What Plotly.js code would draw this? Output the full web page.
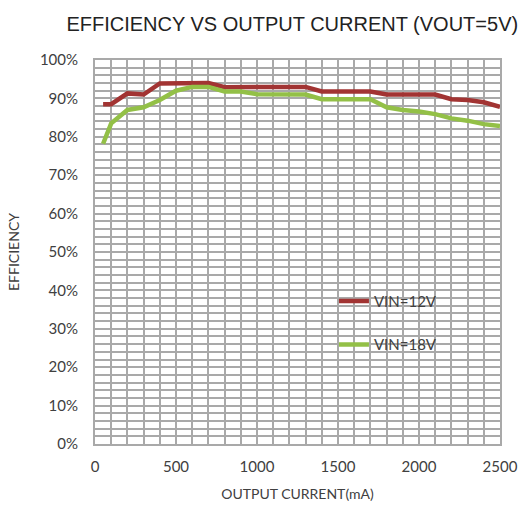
<!DOCTYPE html>
<html><head><meta charset="utf-8">
<script src="https://cdn.plot.ly/plotly-3.0.1.min.js"></script>
<style>html,body{margin:0;padding:0;background:#fff;}</style>
</head><body>
<div id="chart" style="width:521px;height:505px;"></div>
<script>
const current12 = [50, 100, 200, 300, 400, 500, 600, 700, 800, 900, 1000, 1100, 1200, 1300, 1400, 1500, 1600, 1700, 1800, 1900, 2000, 2100, 2200, 2300, 2400, 2500];
const eff12 = [88.5, 88.5, 91.3, 91, 93.9, 94, 94, 94, 92.9, 93, 93, 93, 93, 93, 91.8, 91.8, 91.8, 91.8, 91, 91, 91, 91, 89.8, 89.6, 89, 87.8];
const current18 = [50, 100, 200, 300, 400, 500, 600, 700, 800, 900, 1000, 1100, 1200, 1300, 1400, 1500, 1600, 1700, 1800, 1900, 2000, 2100, 2200, 2300, 2400, 2500];
const eff18 = [78.2, 83.5, 87, 87.7, 89.6, 92, 93, 93, 91.8, 91.8, 91.1, 91, 91, 91, 89.8, 89.8, 89.8, 89.8, 87.7, 87, 86.6, 85.9, 84.8, 84.2, 83.3, 82.8];
const seriesNames = ['VIN=12V', 'VIN=18V'];
const xLabelVals = [0, 500, 1000, 1500, 2000, 2500];
const yLabelVals = [0, 10, 20, 30, 40, 50, 60, 70, 80, 90, 100];

// grid positions (every 100 mA, every 2 %), labels only at the label values
const xGrid = [], xText = [];
for (let v = 0; v <= 2500; v += 100) { xGrid.push(v); xText.push(xLabelVals.includes(v) ? String(v) : ''); }
const yGrid = [], yText = [];
for (let v = 0; v <= 100; v += 2) { yGrid.push(v); yText.push(yLabelVals.includes(v) ? v + '%' : ''); }

const font = 'Lato, "Open Sans", sans-serif';
const traces = [
  {x: current12, y: eff12, name: seriesNames[0], mode: 'lines', legendgroup: 'a',
   line: {color: '#a23433', width: 4.5}},
  {x: current18, y: eff18, name: seriesNames[1], mode: 'lines', legendgroup: 'b',
   line: {color: '#93c047', width: 4.5}}
];
const gridc = '#a9a9a9';
const layout = {
  width: 521, height: 505,
  margin: {l: 95, r: 21, t: 60, b: 61},
  paper_bgcolor: '#fff', plot_bgcolor: '#fff',
  font: {family: font, color: '#404040', size: 14},
  title: {text: 'EFFICIENCY VS OUTPUT CURRENT (VOUT=5V)', x: 0.561, xanchor: 'center', y: 0.952, yanchor: 'middle',
          font: {size: 20, color: '#222', family: 'Liberation Sans, Arial, sans-serif'}},
  xaxis: {range: [0, 2500], tickmode: 'array', tickvals: xGrid, ticktext: xText,
          showgrid: true, gridcolor: gridc, gridwidth: 2,
          zeroline: false, showline: true, linecolor: gridc, linewidth: 2, mirror: true,
          ticks: '', tickfont: {size: 15, color: '#404040'}, ticklabelstandoff: 8,
          title: {text: 'OUTPUT CURRENT(mA)', font: {size: 14, color: '#404040'}, standoff: 15}},
  yaxis: {range: [0, 100], tickmode: 'array', tickvals: yGrid, ticktext: yText,
          showgrid: true, gridcolor: gridc, gridwidth: 2,
          zeroline: false, showline: true, linecolor: gridc, linewidth: 2, mirror: true,
          ticks: '', tickfont: {size: 15, color: '#404040'}, ticklabelstandoff: 12,
          title: {text: 'EFFICIENCY', font: {size: 14, color: '#404040'}, standoff: 17}},
  showlegend: true,
  legend: {x: 0.59, y: 0.415, xanchor: 'left', yanchor: 'top', bgcolor: 'rgba(0,0,0,0)',
           tracegroupgap: 21, font: {size: 15, color: '#404040'}, itemwidth: 30}
};
Plotly.newPlot('chart', traces, layout, {displayModeBar: false, staticPlot: true});
</script>
</body></html>
